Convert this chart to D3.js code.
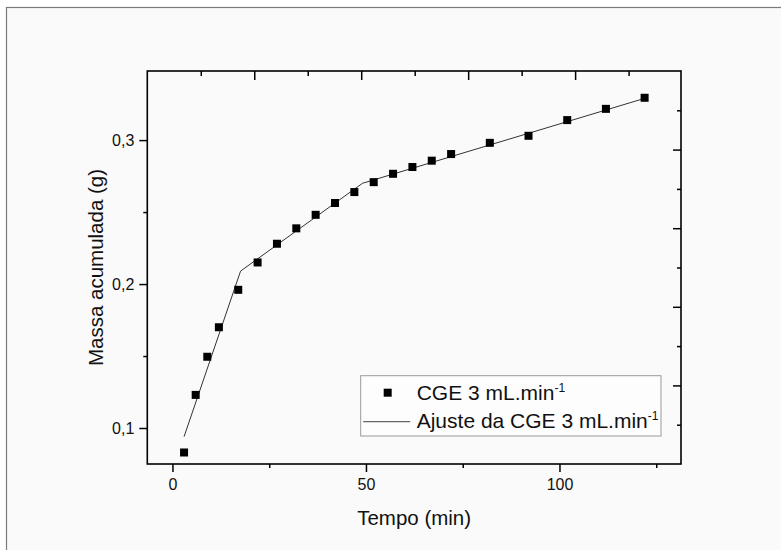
<!DOCTYPE html>
<html lang="pt">
<head>
  <meta charset="UTF-8">
  <title>Massa acumulada</title>
  <script src="https://d3js.org/d3.v7.min.js" charset="utf-8"></script>
  <style>
    body {
      margin: 0;
      background: #fff;
    }
    svg {
      display: block;
      font-family: Arial, 'Liberation Sans', sans-serif;
    }
    .axis text {
      font-size: 16px;
      fill: #111;
    }
    .axis line {
      stroke: #000;
      stroke-width: 1.5;
    }
    .axis path {
      display: none;
    }
  </style>
</head>
<body>
  <div id="wrapper"></div>
  <script>
    // dados
    const tempo = [3, 6, 9, 12, 17, 22, 27, 32, 37, 42, 47, 52, 57, 62, 67, 72, 82, 92, 102, 112, 122]
    const massa = [0.083, 0.123, 0.1495, 0.170, 0.196, 0.215, 0.228, 0.2387, 0.2481, 0.2563, 0.2639,
                   0.2708, 0.2766, 0.2813, 0.2857, 0.2903, 0.2981, 0.3030, 0.3139, 0.3217, 0.3294]

    // ajuste (três retas)
    const ajusteX = [3, 17.6, 49.1, 122]
    const ajusteY = [0.094, 0.209, 0.270, 0.329]

    const xMajor = [0, 50, 100]
    const xMinor = [25, 75, 125]
    const yMajor = [0.1, 0.2, 0.3]
    const yMinor = [0.15, 0.25]

    const seriesLabel = "CGE 3 mL.min"
    const fitLabel = "Ajuste da CGE 3 mL.min"

    const dataset = tempo.map((t, i) => ({ t: t, m: massa[i] }))
    const fitData = ajusteX.map((t, i) => ({ t: t, m: ajusteY[i] }))

    const dimensions = {
      width: 781,
      height: 550,
      margin: { top: 71, right: 100, bottom: 86, left: 147.3 }
    }
    dimensions.boundedWidth = dimensions.width - dimensions.margin.left - dimensions.margin.right
    dimensions.boundedHeight = dimensions.height - dimensions.margin.top - dimensions.margin.bottom

    const wrapper = d3.select("#wrapper")
      .append("svg")
        .attr("width", dimensions.width)
        .attr("height", dimensions.height)

    // moldura externa
    wrapper.append("rect")
      .attr("x", 6.5)
      .attr("y", 7.5)
      .attr("width", 820)
      .attr("height", 600)
      .attr("fill", "#fafafa")
      .attr("stroke", "#7a7a7a")
      .attr("stroke-width", 1.2)

    const bounds = wrapper.append("g")
      .attr("transform", `translate(${dimensions.margin.left}, ${dimensions.margin.top})`)

    const xScale = d3.scaleLinear()
      .domain([-6.5, 131.4])
      .range([0, dimensions.boundedWidth])

    const yScale = d3.scaleLinear()
      .domain([0.075, 0.348])
      .range([dimensions.boundedHeight, 0])

    // eixos opostos (sem rótulos, escala própria)
    const topScale = d3.scaleLinear().domain([0, 49.9]).range([0, dimensions.boundedWidth])
    const rightScale = d3.scaleLinear().domain([0, 10]).range([dimensions.boundedHeight, 0])

    const ptBR = d3.formatLocale({ decimal: ",", thousands: ".", grouping: [3], currency: ["R$", ""] })

    // eixo x inferior
    bounds.append("g")
      .attr("class", "axis")
      .attr("transform", `translate(0, ${dimensions.boundedHeight})`)
      .call(d3.axisBottom(xScale).tickValues(xMajor).tickSize(8).tickPadding(7).tickFormat(d3.format("d")))
    bounds.append("g")
      .attr("class", "axis")
      .attr("transform", `translate(0, ${dimensions.boundedHeight})`)
      .call(d3.axisBottom(xScale).tickValues(xMinor).tickSize(4).tickFormat(""))

    // eixo y esquerdo
    bounds.append("g")
      .attr("class", "axis")
      .call(d3.axisLeft(yScale).tickValues(yMajor).tickSize(8).tickPadding(5).tickFormat(ptBR.format(".1f")))
    bounds.append("g")
      .attr("class", "axis")
      .call(d3.axisLeft(yScale).tickValues(yMinor).tickSize(4).tickFormat(""))

    // eixo superior
    bounds.append("g")
      .attr("class", "axis")
      .call(d3.axisTop(topScale).tickValues([10, 20, 30, 40]).tickSize(-9).tickFormat(""))
    bounds.append("g")
      .attr("class", "axis")
      .call(d3.axisTop(topScale).tickValues([5, 15, 25, 35, 45]).tickSize(-5).tickFormat(""))

    // eixo direito
    bounds.append("g")
      .attr("class", "axis")
      .attr("transform", `translate(${dimensions.boundedWidth}, 0)`)
      .call(d3.axisRight(rightScale).tickValues([2, 4, 6, 8]).tickSize(-8).tickFormat(""))
    bounds.append("g")
      .attr("class", "axis")
      .attr("transform", `translate(${dimensions.boundedWidth}, 0)`)
      .call(d3.axisRight(rightScale).tickValues([1, 3, 5, 7, 9]).tickSize(-4).tickFormat(""))

    // caixa do gráfico
    bounds.append("rect")
      .attr("width", dimensions.boundedWidth)
      .attr("height", dimensions.boundedHeight)
      .attr("fill", "none")
      .attr("stroke", "#000")
      .attr("stroke-width", 1.6)

    // linha de ajuste
    const lineGenerator = d3.line()
      .x(d => xScale(d.t))
      .y(d => yScale(d.m))

    bounds.append("path")
      .datum(fitData)
      .attr("d", lineGenerator)
      .attr("fill", "none")
      .attr("stroke", "#333")
      .attr("stroke-width", 1)

    // pontos
    const sq = 8
    bounds.selectAll(".pt")
      .data(dataset)
      .join("rect")
        .attr("class", "pt")
        .attr("x", d => xScale(d.t) - sq / 2)
        .attr("y", d => yScale(d.m) - sq / 2)
        .attr("width", sq)
        .attr("height", sq)
        .attr("fill", "#000")

    // títulos dos eixos
    wrapper.append("text")
      .attr("x", dimensions.margin.left + dimensions.boundedWidth / 2)
      .attr("y", 525)
      .attr("text-anchor", "middle")
      .style("font-size", "20.5px")
      .attr("fill", "#111")
      .text("Tempo (min)")

    wrapper.append("text")
      .attr("transform", `translate(103, ${dimensions.margin.top + dimensions.boundedHeight / 2}) rotate(-90)`)
      .attr("text-anchor", "middle")
      .style("font-size", "20.5px")
      .attr("fill", "#111")
      .text("Massa acumulada (g)")

    // legenda
    const legend = wrapper.append("g")
      .attr("transform", "translate(360.7, 375.7)")

    legend.append("rect")
      .attr("width", 300.3)
      .attr("height", 60.3)
      .attr("fill", "#fdfdfd")
      .attr("stroke", "#999")
      .attr("stroke-width", 1)

    legend.append("rect")
      .attr("x", 27 - sq / 2)
      .attr("y", 17 - sq / 2)
      .attr("width", sq)
      .attr("height", sq)
      .attr("fill", "#000")

    legend.append("line")
      .attr("x1", 2.5)
      .attr("x2", 49.5)
      .attr("y1", 46)
      .attr("y2", 46)
      .attr("stroke", "#666")
      .attr("stroke-width", 1.2)

    const addLegendText = (label, y) => {
      const t = legend.append("text")
        .attr("x", 56)
        .attr("y", y)
        .style("font-size", "21px")
        .attr("fill", "#111")
      t.append("tspan").text(label)
      t.append("tspan")
        .attr("dy", -8)
        .style("font-size", "12px")
        .text("-1")
    }
    addLegendText(seriesLabel, 24.5)
    addLegendText(fitLabel, 52.5)
  </script>
</body>
</html>
